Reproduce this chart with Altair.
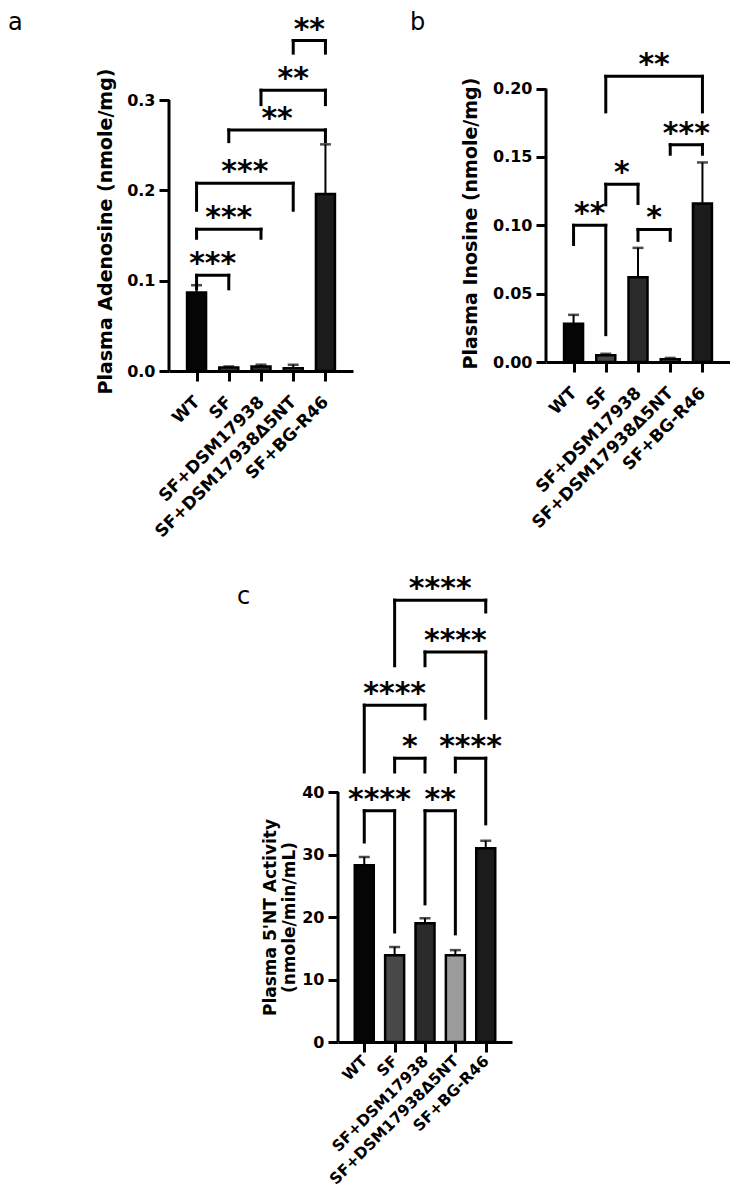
import json
import altair as alt
import pandas as pd

# ---------------- data ----------------
groups = ["WT", "SF", "SF+DSM17938", "SF+DSM17938Δ5NT", "SF+BG-R46"]
bar_fills = ["#050505", "#484848", "#2b2b2b", "#9b9b9b", "#1b1b1b"]

# Panel a: Plasma Adenosine (nmole/mg)
a_mean = [0.087, 0.004, 0.005, 0.003, 0.196]
a_sem = [0.008, 0.001, 0.002, 0.004, 0.055]
a_ticks = [0.0, 0.1, 0.2, 0.3]
a_br_left = [0, 0, 0, 1, 2, 3]
a_br_right = [1, 2, 3, 4, 4, 4]
a_br_top = [0.106, 0.157, 0.208, 0.267, 0.311, 0.366]
a_br_left_end = [0.091, 0.147, 0.178, 0.254, 0.295, 0.352]
a_br_right_end = [0.091, 0.147, 0.178, 0.254, 0.295, 0.352]
a_br_label = ["***", "***", "***", "**", "**", "**"]

# Panel b: Plasma Inosine (nmole/mg)
b_mean = [0.028, 0.005, 0.062, 0.002, 0.116]
b_sem = [0.0065, 0.001, 0.0215, 0.001, 0.030]
b_ticks = [0.0, 0.05, 0.10, 0.15, 0.20]
b_br_left = [0, 1, 2, 3, 1]
b_br_right = [1, 2, 3, 4, 4]
b_br_top = [0.100, 0.130, 0.097, 0.159, 0.209]
b_br_left_end = [0.086, 0.115, 0.089, 0.152, 0.183]
b_br_right_end = [0.020, 0.116, 0.089, 0.152, 0.183]
b_br_label = ["**", "*", "*", "***", "**"]

# Panel c: Plasma 5'NT Activity (nmole/min/mL)
c_mean = [28.3, 13.9, 19.0, 13.9, 31.0]
c_sem = [1.3, 1.3, 0.8, 0.8, 1.2]
c_ticks = [0, 10, 20, 30, 40]
c_br_left = [0, 2, 1, 3, 0, 2, 1]
c_br_right = [1, 3, 2, 4, 2, 4, 4]
c_br_top = [37.0, 37.0, 45.4, 45.4, 53.9, 62.4, 70.7]
c_br_left_end = [32.0, 22.1, 43.2, 43.2, 43.2, 60.2, 60.2]
c_br_right_end = [17.6, 17.3, 43.2, 34.9, 51.7, 51.8, 68.8]
c_br_label = ["****", "**", "*", "****", "****", "****", "****"]

FONT = "DejaVu Sans"
label_expr = json.dumps(groups, ensure_ascii=False) + "[datum.value]"


def panel(mean, sem, ticks, fmt, ytop, width, height, title, title_x, title_y,
          title_size, br_l, br_r, br_top, br_lend, br_rend, br_lab,
          letter, letter_x, letter_y, xlab_size=17, xlab_pad=18):
    bars = pd.DataFrame({
        "idx": list(range(len(groups))),
        "group": groups,
        "mean": mean,
        "upper": [m + s for m, s in zip(mean, sem)],
    })
    xs = alt.Scale(domain=[-0.7, 4.7], nice=False, zero=False)
    ys = alt.Scale(domain=[0, ytop], nice=False, zero=True)
    xaxis = alt.Axis(values=list(range(len(groups))), labelExpr=label_expr,
                     labelAngle=-45, labelAlign="right", labelBaseline="middle",
                     labelPadding=xlab_pad, labelLimit=400, labelFontSize=xlab_size,
                     title=None, labelOverlap=False, labelFlush=False,
                     labelBound=False)
    yaxis = alt.Axis(values=ticks, format=fmt, domain=False, title=title,
                     titleX=title_x, titleY=title_y, titleAngle=-90,
                     titleAlign="center", titleBaseline="middle",
                     titleFontSize=title_size, labelPadding=4,
                     labelFlush=False, labelOverlap=False)

    base = alt.Chart(bars)
    bar = base.mark_bar(size=19, stroke="black", strokeWidth=2.5).encode(
        x=alt.X("idx:Q", scale=xs, axis=xaxis),
        y=alt.Y("mean:Q", scale=ys, axis=yaxis),
        color=alt.Color("group:N", scale=alt.Scale(domain=groups, range=bar_fills),
                        legend=None),
    )
    err = base.mark_rule(strokeWidth=2, color="black").encode(
        x="idx:Q", y="mean:Q", y2="upper:Q")
    cap = base.mark_tick(orient="horizontal", size=11, thickness=2.5,
                         color="black").encode(x="idx:Q", y="upper:Q")

    segs = []
    labs = []
    for l, r, t, le, re_, lab in zip(br_l, br_r, br_top, br_lend, br_rend, br_lab):
        segs.append({"x": l, "x2": r, "y": t, "y2": t})
        segs.append({"x": l, "x2": l, "y": t, "y2": le})
        segs.append({"x": r, "x2": r, "y": t, "y2": re_})
        labs.append({"x": (l + r) / 2, "y": t, "t": lab})
    br = alt.Chart(pd.DataFrame(segs)).mark_rule(
        strokeWidth=3, color="black", strokeCap="square").encode(
        x="x:Q", x2="x2:Q", y="y:Q", y2="y2:Q")
    stars = alt.Chart(pd.DataFrame(labs)).mark_text(
        font=FONT, fontWeight="bold", fontSize=30, baseline="alphabetic",
        align="center", dy=-2, color="black").encode(
        x="x:Q", y="y:Q", text="t:N")

    yline = alt.Chart(pd.DataFrame({"y0": [0], "y1": [ticks[-1]]})).mark_rule(
        strokeWidth=3, color="black").encode(x=alt.value(0), y="y0:Q", y2="y1:Q")

    letter_mark = alt.Chart(pd.DataFrame({"t": [letter]})).mark_text(
        font=FONT, fontSize=24, align="left", baseline="alphabetic",
        color="black").encode(x=alt.value(letter_x), y=alt.value(letter_y), text="t:N")

    return alt.layer(bar, err, cap, br, stars, yline, letter_mark).properties(
        width=width, height=height)


pa = panel(a_mean, a_sem, a_ticks, ".1f", 0.402, 184, 363,
           "Plasma Adenosine (nmole/mg)", -64, 223, 19,
           a_br_left, a_br_right, a_br_top, a_br_left_end, a_br_right_end,
           a_br_label, "a", -161, 22)
pb = panel(b_mean, b_sem, b_ticks, ".2f", 0.259, 184, 354,
           "Plasma Inosine (nmole/mg)", -76, 215, 19,
           b_br_left, b_br_right, b_br_top, b_br_left_end, b_br_right_end,
           b_br_label, "b", -136, 22)
pc = panel(c_mean, c_sem, c_ticks, "d", 75.36, 174, 471,
           ["Plasma 5'NT Activity", "(nmole/min/mL)"], -67.5, 346, 17,
           c_br_left, c_br_right, c_br_top, c_br_left_end, c_br_right_end,
           c_br_label, "c", -101, 33, xlab_size=15.5, xlab_pad=6)

# empty view that only shifts panel c to the right
blank = alt.Chart(pd.DataFrame({"v": [0]})).mark_point(opacity=0).properties(
    width=68, height=10)

row1 = alt.hconcat(pa, pb, spacing=57)
row2 = alt.hconcat(blank, pc, spacing=0)
chart = alt.vconcat(row1, row2, spacing=31).configure_view(stroke=None).configure_axis(
    labelFont=FONT, labelFontWeight="bold", labelFontSize=16, labelColor="black",
    titleFont=FONT, titleFontWeight="bold", titleColor="black",
    tickColor="black", tickWidth=3, tickSize=10,
    domainColor="black", domainWidth=3, grid=False,
).properties(padding=0, background="white")

chart.save("out.html", embed_options={"renderer": "svg", "actions": False})
